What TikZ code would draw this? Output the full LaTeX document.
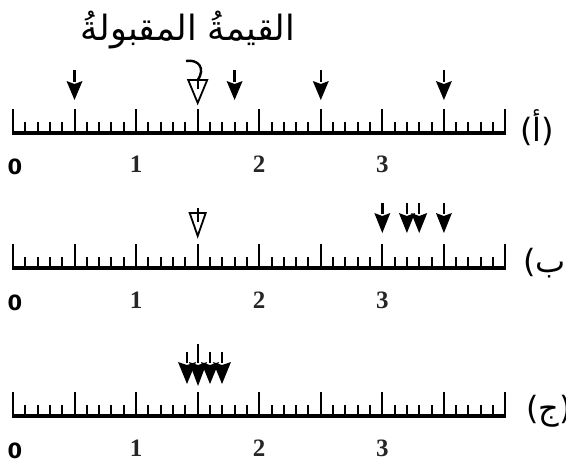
\documentclass[tikz,border=0pt]{standalone}
\usepackage{fontspec}
\usepackage{graphicx}
\TeXXeTstate=1
\newfontfamily\arabicfont[Script=Arabic]{DejaVu Sans}
\newfontfamily\numserif{Liberation Serif}
\newfontfamily\numsans{DejaVu Sans}
\def\xo{13}
\def\un{123.1}
% ruler with baseline at y = #1
\newcommand\drawruler[1]{%
  \draw[rbase] (\xo-1,#1) -- (\xo+4*\un+1,#1);
  \foreach \i in {0,...,40}{%
    \pgfmathsetmacro\tx{\xo+\i*\un/10}%
    \pgfmathtruncatemacro\m{mod(\i,5)}%
    \ifnum\m=0 \draw[rtick] (\tx,#1) -- (\tx,#1-24);\else \draw[rtick] (\tx,#1) -- (\tx,#1-11);\fi
  }%
}
% filled arrow: x, top, head base, tip, half width
\newcommand\farr[5]{%
  \draw[ashaft] (#1,#2) -- (#1,#3+1);
  \fill (#1-#5,#3) -- (#1,#3+3) -- (#1+#5,#3) -- (#1,#4) -- cycle;
}
% open arrow: x, top, head base, tip, half width
\newcommand\oarr[5]{%
  \draw[ohead] (#1-#5,#3) -- (#1+#5,#3) -- (#1,#4) -- cycle;
  \draw[ashaft] (#1,#2) -- (#1,#3+9);
}
\newcommand\plabel[1]{{\numsans(}{\arabicfont\beginR #1\endR}{\numsans)}}
\begin{document}
\begin{tikzpicture}[x=1pt,y=-1pt,
  rbase/.style={line width=3.6pt},
  rtick/.style={line width=2pt},
  ashaft/.style={line width=2.4pt},
  ohead/.style={line width=1.8pt,fill=white,line join=miter},
  numlab/.style={font=\numserif\bfseries\fontsize{25}{25}\selectfont,text=black!85},
  zerolab/.style={font=\numsans\bfseries\fontsize{21}{21}\selectfont},
  panlab/.style={font=\fontsize{32}{32}\selectfont,anchor=west,inner sep=0pt}]
\useasboundingbox (0,0) rectangle (566,471);
\clip (0,0) rectangle (566,471);

% title
\node (title) at (188,30) {\resizebox{214pt}{!}{\arabicfont\beginR القيمةُ المقبولةُ\endR}};

% ---------- panel a ----------
\drawruler{133}
\node[zerolab] (a0) at (15,167) {0};
\node[numlab] (a1) at (\xo+\un,164) {1};
\node[numlab] (a2) at (\xo+2*\un,164) {2};
\node[numlab] (a3) at (\xo+3*\un,164) {3};
\node[panlab] (la) at (520,128) {\plabel{أ}};
\farr{74.5}{70}{81}{100}{8}
\farr{234.6}{70}{81}{100}{8}
\farr{320.8}{70}{81}{100}{8}
\farr{443.9}{70}{81}{100}{8}
\oarr{197.7}{80}{80}{103}{9.5}
\draw[ashaft] (186,61) .. controls (198,59) and (206,68) .. (197.7,80);

% ---------- panel b ----------
\drawruler{268}
\node[zerolab] (b0) at (15,303) {0};
\node[numlab] (b1) at (\xo+\un,300) {1};
\node[numlab] (b2) at (\xo+2*\un,300) {2};
\node[numlab] (b3) at (\xo+3*\un,300) {3};
\node[panlab] (lb) at (523,263) {\plabel{ب}};
\oarr{197.7}{208}{213}{236}{8}
\farr{382.3}{203}{213}{233}{8}
\farr{406.9}{203}{213}{233}{8}
\farr{419.2}{203}{213}{233}{8}
\farr{443.9}{203}{213}{233}{8}

% ---------- panel c ----------
\drawruler{416}
\node[zerolab] (c0) at (15,451) {0};
\node[numlab] (c1) at (\xo+\un,448) {1};
\node[numlab] (c2) at (\xo+2*\un,448) {2};
\node[numlab] (c3) at (\xo+3*\un,448) {3};
\node[panlab] (lc) at (526,411) {\plabel{ج}};
\farr{187}{352}{362}{384}{9}
\farr{198}{344}{362}{386}{9}
\farr{210}{352}{362}{384}{9}
\farr{222}{352}{362}{384}{9}
\end{tikzpicture}
\end{document}
